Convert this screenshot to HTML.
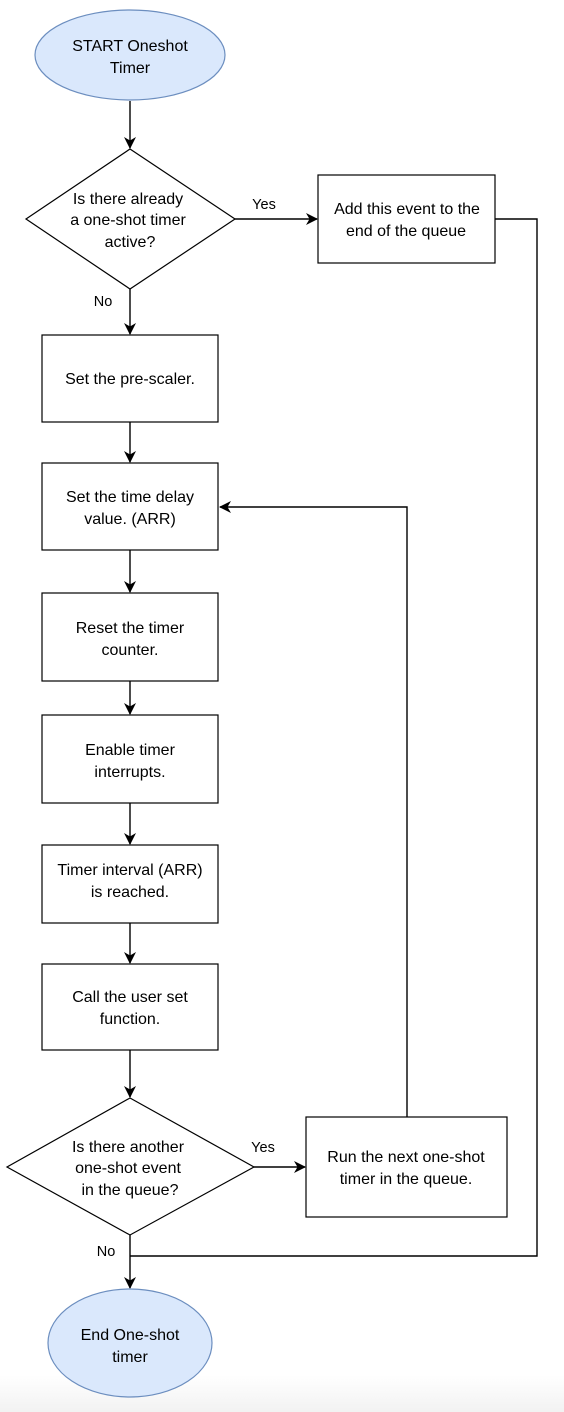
<!DOCTYPE html>
<html><head><style>
body{margin:0;width:564px;height:1412px;overflow:hidden;background:linear-gradient(to bottom,#fff 0,#fff 1375px,#f2f2f2 1412px);}
svg{display:block}
text{font-family:"Liberation Sans",Arial,sans-serif;font-size:16px;fill:#000;text-anchor:middle}
.l{font-size:14.5px}
</style></head><body>
<svg width="564" height="1412" viewBox="0 0 564 1412">
<defs><marker id="a" markerWidth="12" markerHeight="12" refX="11" refY="6" orient="auto" markerUnits="userSpaceOnUse"><path d="M0,0 L12,6 L0,12 L3.5,6 Z" fill="#000"/></marker></defs>
<g stroke="#000" stroke-width="1.4" fill="none">
<path d="M130,101 V148" marker-end="url(#a)"/>
<path d="M235,219 H317" marker-end="url(#a)"/>
<path d="M130,289 V334" marker-end="url(#a)"/>
<path d="M495,219 H537 V1256 H130"/>
<path d="M130,422 V462" marker-end="url(#a)"/>
<path d="M130,550 V592" marker-end="url(#a)"/>
<path d="M130,681 V714" marker-end="url(#a)"/>
<path d="M130,803 V844" marker-end="url(#a)"/>
<path d="M130,923 V963" marker-end="url(#a)"/>
<path d="M130,1050 V1097" marker-end="url(#a)"/>
<path d="M254,1167 H305" marker-end="url(#a)"/>
<path d="M407,1117 V507 H220" marker-end="url(#a)"/>
<path d="M130,1235 V1288" marker-end="url(#a)"/>
</g>
<ellipse cx="130" cy="55" rx="95" ry="45" fill="#dae8fc" stroke="#6c8ebf" stroke-width="1.2"/>
<ellipse cx="130" cy="1343" rx="82" ry="54" fill="#dae8fc" stroke="#6c8ebf" stroke-width="1.2"/>
<g fill="#fff" stroke="#000" stroke-width="1.2">
<path d="M130,149 L235,219 L130,289 L26,219 Z"/>
<path d="M130,1098 L254,1167 L130,1235 L7,1167 Z"/>
<rect x="318" y="175" width="177" height="88"/>
<rect x="42" y="335" width="176" height="87"/>
<rect x="42" y="463" width="176" height="87"/>
<rect x="42" y="593" width="176" height="88"/>
<rect x="42" y="715" width="176" height="88"/>
<rect x="42" y="845" width="176" height="78"/>
<rect x="42" y="964" width="176" height="86"/>
<rect x="306" y="1117" width="201" height="100"/>
</g>
<text x="130" y="51">START Oneshot</text><text x="130" y="73">Timer</text>
<text x="128" y="204">Is there already</text><text x="128" y="225">a one-shot timer</text><text x="130" y="247">active?</text>
<text x="407" y="214">Add this event to the</text><text x="406" y="236">end of the queue</text>
<text x="130" y="384">Set the pre-scaler.</text>
<text x="130" y="502">Set the time delay</text><text x="130" y="524">value. (ARR)</text>
<text x="130" y="633">Reset the timer</text><text x="130" y="655">counter.</text>
<text x="130" y="755">Enable timer</text><text x="130" y="777">interrupts.</text>
<text x="130" y="875">Timer interval (ARR)</text><text x="130" y="897">is reached.</text>
<text x="130" y="1002">Call the user set</text><text x="130" y="1024">function.</text>
<text x="128" y="1152">Is there another</text><text x="128" y="1173">one-shot event</text><text x="130" y="1195">in the queue?</text>
<text x="406" y="1162">Run the next one-shot</text><text x="406" y="1184">timer in the queue.</text>
<text x="130" y="1340">End One-shot</text><text x="130" y="1362">timer</text>
<text class="l" x="264" y="209">Yes</text>
<text class="l" x="103" y="306">No</text>
<text class="l" x="263" y="1152">Yes</text>
<text class="l" x="106" y="1256">No</text>
</svg>
</body></html>
